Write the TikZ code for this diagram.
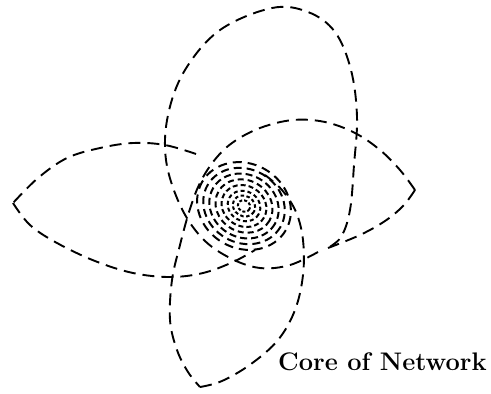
\documentclass[tikz,border=0pt]{standalone}
\begin{document}
\begin{tikzpicture}[x=1bp,y=-1bp,
  petal/.style={line width=1.9bp,dash pattern=on 12bp off 7bp,line cap=butt},
  ring/.style={line width=2bp,line cap=butt},
  lbl/.style={anchor=base west,inner sep=0pt,font=\fontsize{25.5}{29}\selectfont\bfseries}]
\useasboundingbox (0,0) rectangle (491,393);
% top loop
\draw[petal] plot[smooth,tension=0.6] coordinates {(318,252) (290,265) (260,268) (230,258) (202,238) (180,205) (166,160) (168,115) (185,70) (220,30) (272,8) (308,12) (335,32) (351,70) (357,117) (354,165) (350,210) (341,237) (326,249)};
% right petal upper arc continuing into bottom petal left side
\draw[petal] plot[smooth,tension=0.6] coordinates {(415,190) (400,170) (380,150) (355,133) (325,122) (293,120) (260,128) (232,143) (213,162) (199,185) (189,212) (180,245) (172,280) (170,320) (177,350) (188,372) (200,387)};
% right petal lower arc
\draw[petal] plot[smooth,tension=0.6] coordinates {(415,190) (403,206) (385,221) (360,235) (328,248)};
% bottom petal right side
\draw[petal] plot[smooth,tension=0.6] coordinates {(200,387) (222,381) (251,364) (278,340) (295,310) (303,275) (303,240) (296,212) (282,190) (265,175)};
% left petal upper and lower arcs
\draw[petal] plot[smooth,tension=0.6] coordinates {(196,154) (165,145) (133,143) (100,148) (67,158) (38,178) (13,203)};
\draw[petal] plot[smooth,tension=0.6] coordinates {(13,203) (30,225) (57,243) (95,261) (133,273) (170,277) (203,273) (233,262) (255,250)};
% core
\foreach \r/\d/\g in {46/9/6,40/8/5,34/7/4,28/6/4,22/5/3,16/4/3,11/3.5/2.5,6/3/2}{
  \draw[ring,dash pattern=on \d bp off \g bp,rotate around={-30:(244,206)}] (244,206) ellipse ({\r*1.05} and {\r*0.92});
}
\node[lbl] (core) at (278,370) {Core of Network};
\end{tikzpicture}
\end{document}
